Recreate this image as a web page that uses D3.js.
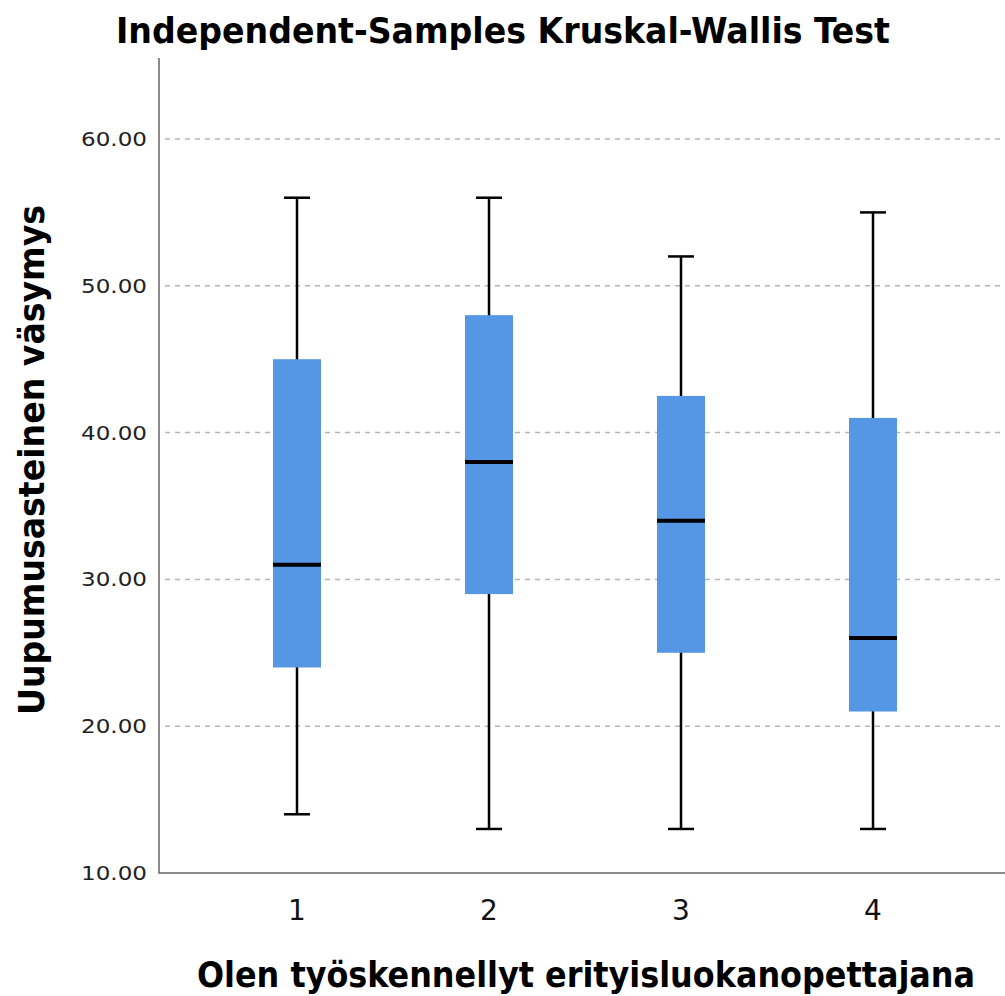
<!DOCTYPE html>
<html>
<head>
<meta charset="utf-8">
<script src="https://cdn.jsdelivr.net/npm/d3@7"></script>
<style>
  body { margin: 0; background: #fff; }
  text { font-family: "DejaVu Sans", sans-serif; }
  .title { font-family: "DejaVu Sans Condensed", "DejaVu Sans", sans-serif; font-stretch: condensed; font-weight: bold; }
</style>
</head>
<body>
<div id="chart"></div>
<script>
const categories = ['1', '2', '3', '4'];
const whiskerLow = [14, 13, 13, 13];
const q1 = [24, 29, 25, 21];
const medians = [31, 38, 34, 26];
const q3 = [45, 48, 42.5, 41];
const whiskerHigh = [56, 56, 52, 55];
const yTicks = [10, 20, 30, 40, 50, 60];

const width = 1005;
const height = 996;
const axisLeft = 159;
const axisBottom = 873;
const axisTop = 58;
const boxWidth = 48;
const capWidth = 26;
const boxColour = '#5596e5';

const svg = d3.select('#chart')
  .append('svg')
  .attr('width', width)
  .attr('height', height);

const x = d3.scalePoint()
  .domain(categories)
  .range([297, 873]);

const y = d3.scaleLinear()
  .domain([10, 10 + (axisBottom - axisTop) / 14.68])
  .range([axisBottom, axisTop]);

// Gridlines.
svg.append('g')
  .selectAll('line')
  .data(yTicks.filter(t => t > 10))
  .join('line')
  .attr('x1', axisLeft + 6)
  .attr('x2', width)
  .attr('y1', d => y(d))
  .attr('y2', d => y(d))
  .attr('stroke', '#b5b5b5')
  .attr('stroke-width', 1.5)
  .attr('stroke-dasharray', '5,5');

// Y tick labels.
svg.append('g')
  .selectAll('text')
  .data(yTicks)
  .join('text')
  .attr('x', 147)
  .attr('y', d => y(d) + 7)
  .attr('text-anchor', 'end')
  .attr('textLength', 66)
  .attr('lengthAdjust', 'spacingAndGlyphs')
  .attr('fill', '#222')
  .style('font-size', '19px')
  .text(d => d3.format('.2f')(d));

// Axes lines.
svg.append('path')
  .attr('d', `M${axisLeft},${axisTop}V${axisBottom}H${width}`)
  .attr('fill', 'none')
  .attr('stroke', '#666')
  .attr('stroke-width', 1.5);

// X tick labels.
svg.append('g')
  .selectAll('text')
  .data(categories)
  .join('text')
  .attr('x', d => x(d))
  .attr('y', 920)
  .attr('text-anchor', 'middle')
  .attr('fill', '#111')
  .style('font-size', '28px')
  .text(d => d);

const groups = categories.map((c, i) => ({
  cat: c, lo: whiskerLow[i], q1: q1[i], med: medians[i], q3: q3[i], hi: whiskerHigh[i]
}));

const box = svg.append('g')
  .selectAll('g')
  .data(groups)
  .join('g');

// Whisker stems.
box.append('line')
  .attr('x1', d => x(d.cat))
  .attr('x2', d => x(d.cat))
  .attr('y1', d => y(d.lo))
  .attr('y2', d => y(d.hi))
  .attr('stroke', '#000')
  .attr('stroke-width', 2.5);

// Whisker caps.
['lo', 'hi'].forEach(key => {
  box.append('line')
    .attr('x1', d => x(d.cat) - capWidth / 2)
    .attr('x2', d => x(d.cat) + capWidth / 2)
    .attr('y1', d => y(d[key]))
    .attr('y2', d => y(d[key]))
    .attr('stroke', '#000')
    .attr('stroke-width', 2.5);
});

// Boxes.
box.append('rect')
  .attr('x', d => x(d.cat) - boxWidth / 2)
  .attr('width', boxWidth)
  .attr('y', d => y(d.q3))
  .attr('height', d => y(d.q1) - y(d.q3))
  .attr('fill', boxColour);

// Medians.
box.append('line')
  .attr('x1', d => x(d.cat) - boxWidth / 2)
  .attr('x2', d => x(d.cat) + boxWidth / 2)
  .attr('y1', d => y(d.med))
  .attr('y2', d => y(d.med))
  .attr('stroke', '#000')
  .attr('stroke-width', 4);

// Title and axis titles.
svg.append('text')
  .attr('class', 'title')
  .attr('x', 503)
  .attr('y', 43)
  .attr('text-anchor', 'middle')
  .attr('textLength', 774)
  .attr('lengthAdjust', 'spacingAndGlyphs')
  .style('font-size', '35px')
  .text('Independent-Samples Kruskal-Wallis Test');

svg.append('text')
  .attr('class', 'title')
  .attr('transform', 'translate(44,460) rotate(-90)')
  .attr('text-anchor', 'middle')
  .attr('textLength', 510)
  .attr('lengthAdjust', 'spacingAndGlyphs')
  .style('font-size', '35px')
  .text('Uupumusasteinen väsymys');

svg.append('text')
  .attr('class', 'title')
  .attr('x', 586)
  .attr('y', 987)
  .attr('text-anchor', 'middle')
  .attr('textLength', 778)
  .attr('lengthAdjust', 'spacingAndGlyphs')
  .style('font-size', '35px')
  .text('Olen työskennellyt erityisluokanopettajana');
</script>
</body>
</html>
